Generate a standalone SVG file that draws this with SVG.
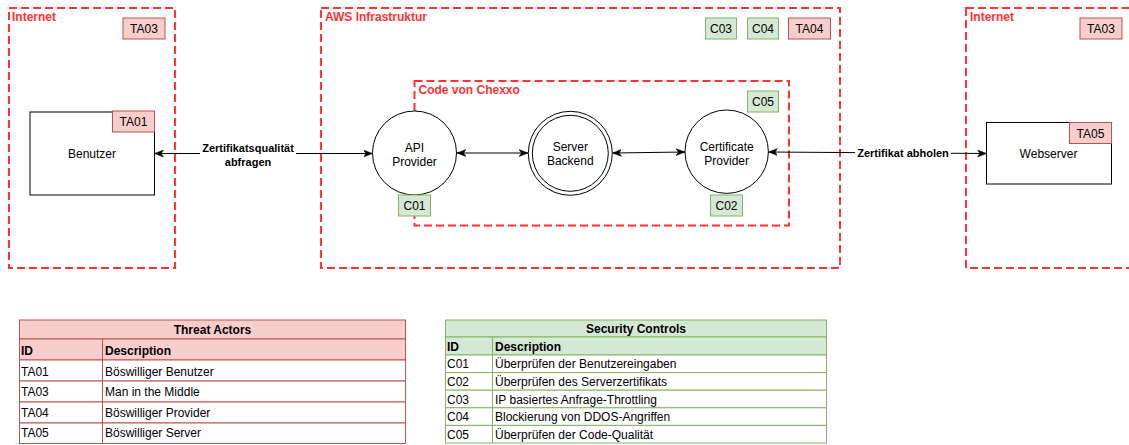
<svg xmlns="http://www.w3.org/2000/svg" width="1129" height="445" viewBox="0 0 1129 445">
  <defs>
    <style>
      text { font-family: "Liberation Sans", Arial, sans-serif; font-size: 12px; fill: #000; }
      .zone { fill: none; stroke: #ff3333; stroke-width: 2; stroke-dasharray: 8 4; }
      .zone-label { font-weight: bold; fill: #ff3333; }
      .node { fill: #fff; stroke: #000; stroke-width: 1; }
      .ta { fill: #f8cecc; stroke: #b85450; stroke-width: 1; }
      .ctl { fill: #d5e8d4; stroke: #82b366; stroke-width: 1; }
      .row-ta { fill: #fff; stroke: #b85450; stroke-width: 1; }
      .row-ctl { fill: #fff; stroke: #82b366; stroke-width: 1; }
      .mid { text-anchor: middle; }
      .bold { font-weight: bold; }
      .edge { fill: none; stroke: #000; stroke-width: 1; marker-start: url(#arrow); marker-end: url(#arrow); }
      .edge-label { font-size: 11px; font-weight: bold; text-anchor: middle; }
    </style>
    <marker id="arrow" viewBox="0 0 9 8" markerWidth="9" markerHeight="8" refX="9" refY="4" orient="auto-start-reverse" markerUnits="userSpaceOnUse">
      <path d="M0,0.5 L9,4 L0,7.5 L2.5,4 z" fill="#000" stroke="#000" stroke-width="0.5"/>
    </marker>
  </defs>

  <!-- trust zones -->
  <g id="zone-internet-left">
    <rect class="zone" x="9" y="8" width="166" height="260"/>
    <text class="zone-label" x="12" y="21">Internet</text>
    <rect class="ta" x="123" y="18" width="42" height="21"/>
    <text class="mid" x="144" y="33">TA03</text>
  </g>
  <g id="zone-aws">
    <rect class="zone" x="321" y="8" width="519" height="260"/>
    <text class="zone-label" x="325" y="21">AWS Infrastruktur</text>
    <rect class="ctl" x="705.5" y="18" width="31" height="21"/>
    <text class="mid" x="721" y="33">C03</text>
    <rect class="ctl" x="747.5" y="18" width="31" height="21"/>
    <text class="mid" x="763" y="33">C04</text>
    <rect class="ta" x="788.5" y="18" width="42" height="21"/>
    <text class="mid" x="809.5" y="33">TA04</text>
  </g>
  <g id="zone-code">
    <rect class="zone" x="414.5" y="81" width="374.5" height="144.5"/>
    <text class="zone-label" x="418.5" y="93.5">Code von Chexxo</text>
    <rect class="ctl" x="747.5" y="91" width="31" height="21"/>
    <text class="mid" x="763" y="106">C05</text>
  </g>
  <g id="zone-internet-right">
    <rect class="zone" x="966" y="8" width="170" height="260"/>
    <text class="zone-label" x="970" y="21">Internet</text>
    <rect class="ta" x="1080" y="18" width="42" height="21"/>
    <text class="mid" x="1101" y="33">TA03</text>
  </g>

  <!-- connectors -->
  <g id="connectors">
    <line class="edge" x1="154.5" y1="153.5" x2="372.5" y2="153.5"/>
    <rect x="200" y="141" width="96" height="27" fill="#fff"/>
    <text class="edge-label" x="248" y="152">Zertifikatsqualität</text>
    <text class="edge-label" x="248" y="166">abfragen</text>

    <line class="edge" x1="457" y1="153" x2="528" y2="153"/>
    <line class="edge" x1="612.5" y1="153" x2="685" y2="152"/>

    <line class="edge" x1="768.5" y1="152" x2="986.5" y2="153.5"/>
    <rect x="855" y="146" width="96" height="14" fill="#fff"/>
    <text class="edge-label" x="903" y="156.5">Zertifikat abholen</text>
  </g>

  <!-- nodes -->
  <g id="benutzer">
    <rect class="node" x="30" y="112" width="124.5" height="83"/>
    <text class="mid" x="92" y="157.5">Benutzer</text>
    <rect class="ta" x="112.5" y="111" width="42" height="21"/>
    <text class="mid" x="133.5" y="126">TA01</text>
  </g>
  <g id="api-provider">
    <circle class="node" cx="414.5" cy="153" r="42"/>
    <text class="mid" x="414.5" y="151.5">API</text>
    <text class="mid" x="414.5" y="165.5">Provider</text>
    <rect class="ctl" x="398.5" y="195" width="32" height="21"/>
    <text class="mid" x="414.5" y="210">C01</text>
  </g>
  <g id="server-backend">
    <circle class="node" cx="570.3" cy="153.3" r="42"/>
    <circle class="node" cx="570.3" cy="153.3" r="38"/>
    <text class="mid" x="570.3" y="151">Server</text>
    <text class="mid" x="570.3" y="165">Backend</text>
  </g>
  <g id="certificate-provider">
    <circle class="node" cx="726.7" cy="151.7" r="41.7"/>
    <text class="mid" x="726.7" y="150.5">Certificate</text>
    <text class="mid" x="726.7" y="164.5">Provider</text>
    <rect class="ctl" x="710.5" y="195" width="32" height="21"/>
    <text class="mid" x="726.5" y="210">C02</text>
  </g>
  <g id="webserver">
    <rect class="node" x="986.5" y="122.5" width="125" height="61.5"/>
    <text class="mid" x="1048.5" y="157.5">Webserver</text>
    <rect class="ta" x="1069.5" y="122.5" width="42" height="21"/>
    <text class="mid" x="1090.5" y="137.5">TA05</text>
  </g>

  <!-- threat actor legend -->
  <g id="threat-actors">
    <rect class="ta" x="19.5" y="320" width="386" height="19"/>
    <text class="mid bold" x="212.5" y="333.5">Threat Actors</text>
    <rect class="ta" x="19.5" y="339" width="386" height="21"/>
    <line x1="102.5" y1="339" x2="102.5" y2="360" stroke="#b85450"/>
    <text class="bold" x="21" y="354.5">ID</text>
    <text class="bold" x="105" y="354.5">Description</text>
    <rect class="row-ta" x="19.5" y="360" width="386" height="21"/>
    <rect class="row-ta" x="19.5" y="381" width="386" height="21"/>
    <rect class="row-ta" x="19.5" y="402" width="386" height="21"/>
    <rect class="row-ta" x="19.5" y="423" width="386" height="20.5"/>
    <line x1="102.5" y1="360" x2="102.5" y2="443.5" stroke="#b85450"/>
    <text x="21" y="375.5">TA01</text>
    <text x="105" y="375.5">Böswilliger Benutzer</text>
    <text x="21" y="396">TA03</text>
    <text x="105" y="396">Man in the Middle</text>
    <text x="21" y="416.5">TA04</text>
    <text x="105" y="416.5">Böswilliger Provider</text>
    <text x="21" y="437">TA05</text>
    <text x="105" y="437">Böswilliger Server</text>
  </g>

  <!-- security control legend -->
  <g id="security-controls">
    <rect class="ctl" x="445.5" y="320" width="381" height="17"/>
    <text class="mid bold" x="636" y="332.5">Security Controls</text>
    <rect class="ctl" x="445.5" y="337" width="381" height="18"/>
    <line x1="492.5" y1="337" x2="492.5" y2="355" stroke="#82b366"/>
    <text class="bold" x="447" y="350.5">ID</text>
    <text class="bold" x="495" y="350.5">Description</text>
    <rect class="row-ctl" x="445.5" y="355" width="381" height="17.6"/>
    <rect class="row-ctl" x="445.5" y="372.6" width="381" height="17.6"/>
    <rect class="row-ctl" x="445.5" y="390.2" width="381" height="17.6"/>
    <rect class="row-ctl" x="445.5" y="407.8" width="381" height="17.6"/>
    <rect class="row-ctl" x="445.5" y="425.4" width="381" height="17.6"/>
    <line x1="492.5" y1="355" x2="492.5" y2="443" stroke="#82b366"/>
    <text x="447" y="368.3">C01</text>
    <text x="495" y="368.3">Überprüfen der Benutzereingaben</text>
    <text x="447" y="385.9">C02</text>
    <text x="495" y="385.9">Überprüfen des Serverzertifikats</text>
    <text x="447" y="403.5">C03</text>
    <text x="495" y="403.5">IP basiertes Anfrage-Throttling</text>
    <text x="447" y="421.1">C04</text>
    <text x="495" y="421.1">Blockierung von DDOS-Angriffen</text>
    <text x="447" y="438.7">C05</text>
    <text x="495" y="438.7">Überprüfen der Code-Qualität</text>
  </g>
</svg>
